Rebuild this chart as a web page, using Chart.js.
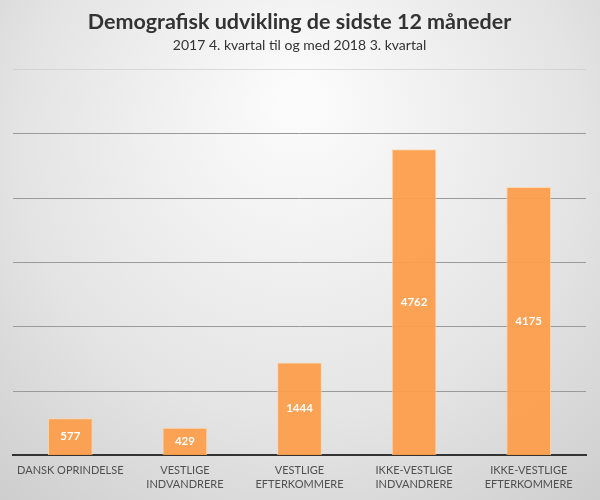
<!DOCTYPE html>
<html>
<head>
<meta charset="utf-8">
<script src="https://cdn.jsdelivr.net/npm/chart.js@4"></script>
<style>
  html, body { margin: 0; padding: 0; background: #fff; }
  #wrap { width: 600px; height: 500px; }
</style>
</head>
<body>
<div id="wrap"><canvas id="demografi" width="600" height="500"></canvas></div>
<script>
const categories = [
  ['DANSK OPRINDELSE'],
  ['VESTLIGE', 'INDVANDRERE'],
  ['VESTLIGE', 'EFTERKOMMERE'],
  ['IKKE-VESTLIGE', 'INDVANDRERE'],
  ['IKKE-VESTLIGE', 'EFTERKOMMERE']
];
const values = [577, 429, 1444, 4762, 4175];

// grey backdrop, lighter near the top middle
const backdrop = {
  id: 'backdrop',
  beforeDraw(chart) {
    const c = chart.ctx, w = chart.width, h = chart.height;
    const g = c.createRadialGradient(w / 2, h * 0.2, 20, w / 2, h * 0.35, w * 0.75);
    g.addColorStop(0, '#fbfbfb');
    g.addColorStop(0.6, '#e4e4e4');
    g.addColorStop(1, '#cdcdcd');
    c.save();
    c.fillStyle = g;
    c.fillRect(0, 0, w, h);
    c.restore();
  }
};

// white numbers in the middle of each bar
const barLabels = {
  id: 'barLabels',
  afterDatasetsDraw(chart) {
    const c = chart.ctx;
    const meta = chart.getDatasetMeta(0);
    c.save();
    c.fillStyle = '#ffffff';
    c.font = 'bold 11.5px Lato, sans-serif';
    c.textAlign = 'center';
    c.textBaseline = 'middle';
    meta.data.forEach((bar, i) => {
      c.fillText(values[i], bar.x, (bar.y + bar.base) / 2);
    });
    c.restore();
  }
};

new Chart(document.getElementById('demografi').getContext('2d'), {
  type: 'bar',
  data: {
    labels: categories,
    datasets: [{
      data: values,
      backgroundColor: 'rgba(253,158,76,0.95)',
      borderColor: 'rgba(255,214,170,0.9)',
      borderWidth: 1
    }]
  },
  options: {
    responsive: false,
    animation: false,
    layout: { padding: { left: 13, right: 14, top: 0, bottom: 0 } },
    categoryPercentage: 1,
    barPercentage: 0.39,
    plugins: {
      legend: { display: false },
      tooltip: { enabled: false },
      title: {
        display: true,
        text: 'Demografisk udvikling de sidste 12 måneder',
        color: '#333',
        font: { family: 'Lato', size: 21.5, weight: 'bold' },
        padding: { top: 9, bottom: 2 }
      },
      subtitle: {
        display: true,
        text: '2017 4. kvartal til og med 2018 3. kvartal',
        color: '#333',
        font: { family: 'Lato', size: 14 },
        padding: { bottom: 16 }
      }
    },
    scales: {
      x: {
        grid: { display: false, drawTicks: false },
        border: { color: '#333', width: 2 },
        ticks: {
          color: '#505050',
          font: { family: 'Lato', size: 11, lineHeight: 1.3 },
          maxRotation: 0,
          autoSkip: false,
          padding: 8
        }
      },
      y: {
        min: 0,
        max: 6000,
        ticks: { stepSize: 1000, display: false },
        border: { display: false },
        grid: {
          drawTicks: false,
          color: ctx => ctx.tick.value === 6000 ? 'rgba(200,200,200,0.6)' : '#9a9a9a',
          lineWidth: 1
        }
      }
    }
  },
  plugins: [backdrop, barLabels]
});
</script>
</body>
</html>
